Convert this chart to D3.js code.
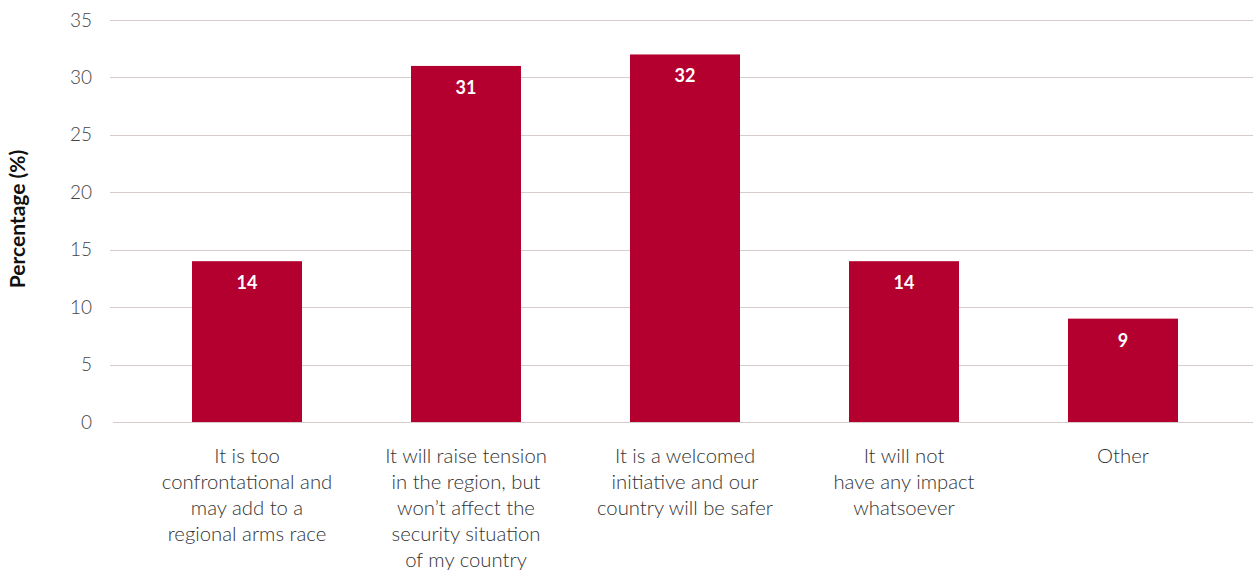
<!DOCTYPE html>
<html><head><meta charset="utf-8">
<script src="https://cdn.jsdelivr.net/npm/d3@7"></script>
<style>
body{margin:0;background:#fff;}
svg{display:block;}
</style></head>
<body>
<svg id="chart" width="1253" height="577"></svg>
<script>
const categories = [
  ["It is too", "confrontational and", "may add to a", "regional arms race"],
  ["It will raise tension", "in the region, but", "won\u2019t affect the", "security situation", "of my country"],
  ["It is a welcomed", "initiative and our", "country will be safer"],
  ["It will not", "have any impact", "whatsoever"],
  ["Other"]
];
const values = [14, 31, 32, 14, 9];
const yTicks = [0, 5, 10, 15, 20, 25, 30, 35];
const yTitle = "Percentage (%)";

const svg = d3.select("#chart");
const font = "Lato, 'Source Sans Pro', sans-serif";
const keys = categories.map((c, i) => i);

const y = d3.scaleLinear().domain([0, 35]).range([422, 20]);
const x = d3.scaleBand().domain(keys).range([137.5, 1232.5])
  .paddingInner(1 - 110/219).paddingOuter((1 - 110/219)/2);

// gridlines
svg.append("g").selectAll("line").data(yTicks).join("line")
  .attr("x1", d => d === 0 ? 113 : 110).attr("x2", 1253)
  .attr("y1", d => Math.round(y(d)) + 0.5).attr("y2", d => Math.round(y(d)) + 0.5)
  .attr("stroke", "#d6cdca").attr("stroke-width", 1.2);

const yAxis = d3.axisLeft(y).tickValues(yTicks).tickSize(0).tickPadding(0);
const g = svg.append("g").attr("transform", "translate(110,0)").call(yAxis);
g.select(".domain").remove();
g.selectAll(".tick line").remove();
g.selectAll(".tick text").attr("x", -18).attr("dy", "0.32em")
  .attr("fill", "#444").style("font-family", font).style("font-weight", 300).style("font-size", "19px");

// bars
svg.append("g").selectAll("rect").data(values).join("rect")
  .attr("x", (d, i) => x(i)).attr("width", x.bandwidth())
  .attr("y", d => y(d)).attr("height", d => y(0) - y(d))
  .attr("fill", "#b4002f");

svg.append("g").selectAll("text").data(values).join("text")
  .attr("x", (d, i) => x(i) + x.bandwidth()/2).attr("y", d => y(d) + 28)
  .attr("text-anchor", "middle").attr("fill", "#fff")
  .style("font-family", font).style("font-weight", 700).style("font-size", "18px")
  .text(d => d);

// x labels
const xl = svg.append("g").selectAll("text").data(categories).join("text")
  .attr("x", (d, i) => x(i) + x.bandwidth()/2).attr("y", 463)
  .attr("text-anchor", "middle").attr("fill", "#333")
  .style("font-family", font).style("font-weight", 300).style("font-size", "20.3px");
xl.selectAll("tspan").data(d => d).join("tspan")
  .attr("x", function(){ return this.parentNode.getAttribute("x"); })
  .attr("dy", (d, i) => i === 0 ? 0 : 26)
  .text(d => d);

// y title
svg.append("text").attr("transform", "translate(25,219) rotate(-90)")
  .attr("text-anchor", "middle").attr("fill", "#111")
  .style("font-family", font).style("font-weight", 700).style("font-size", "21px")
  .text(yTitle);
</script>
</body></html>
